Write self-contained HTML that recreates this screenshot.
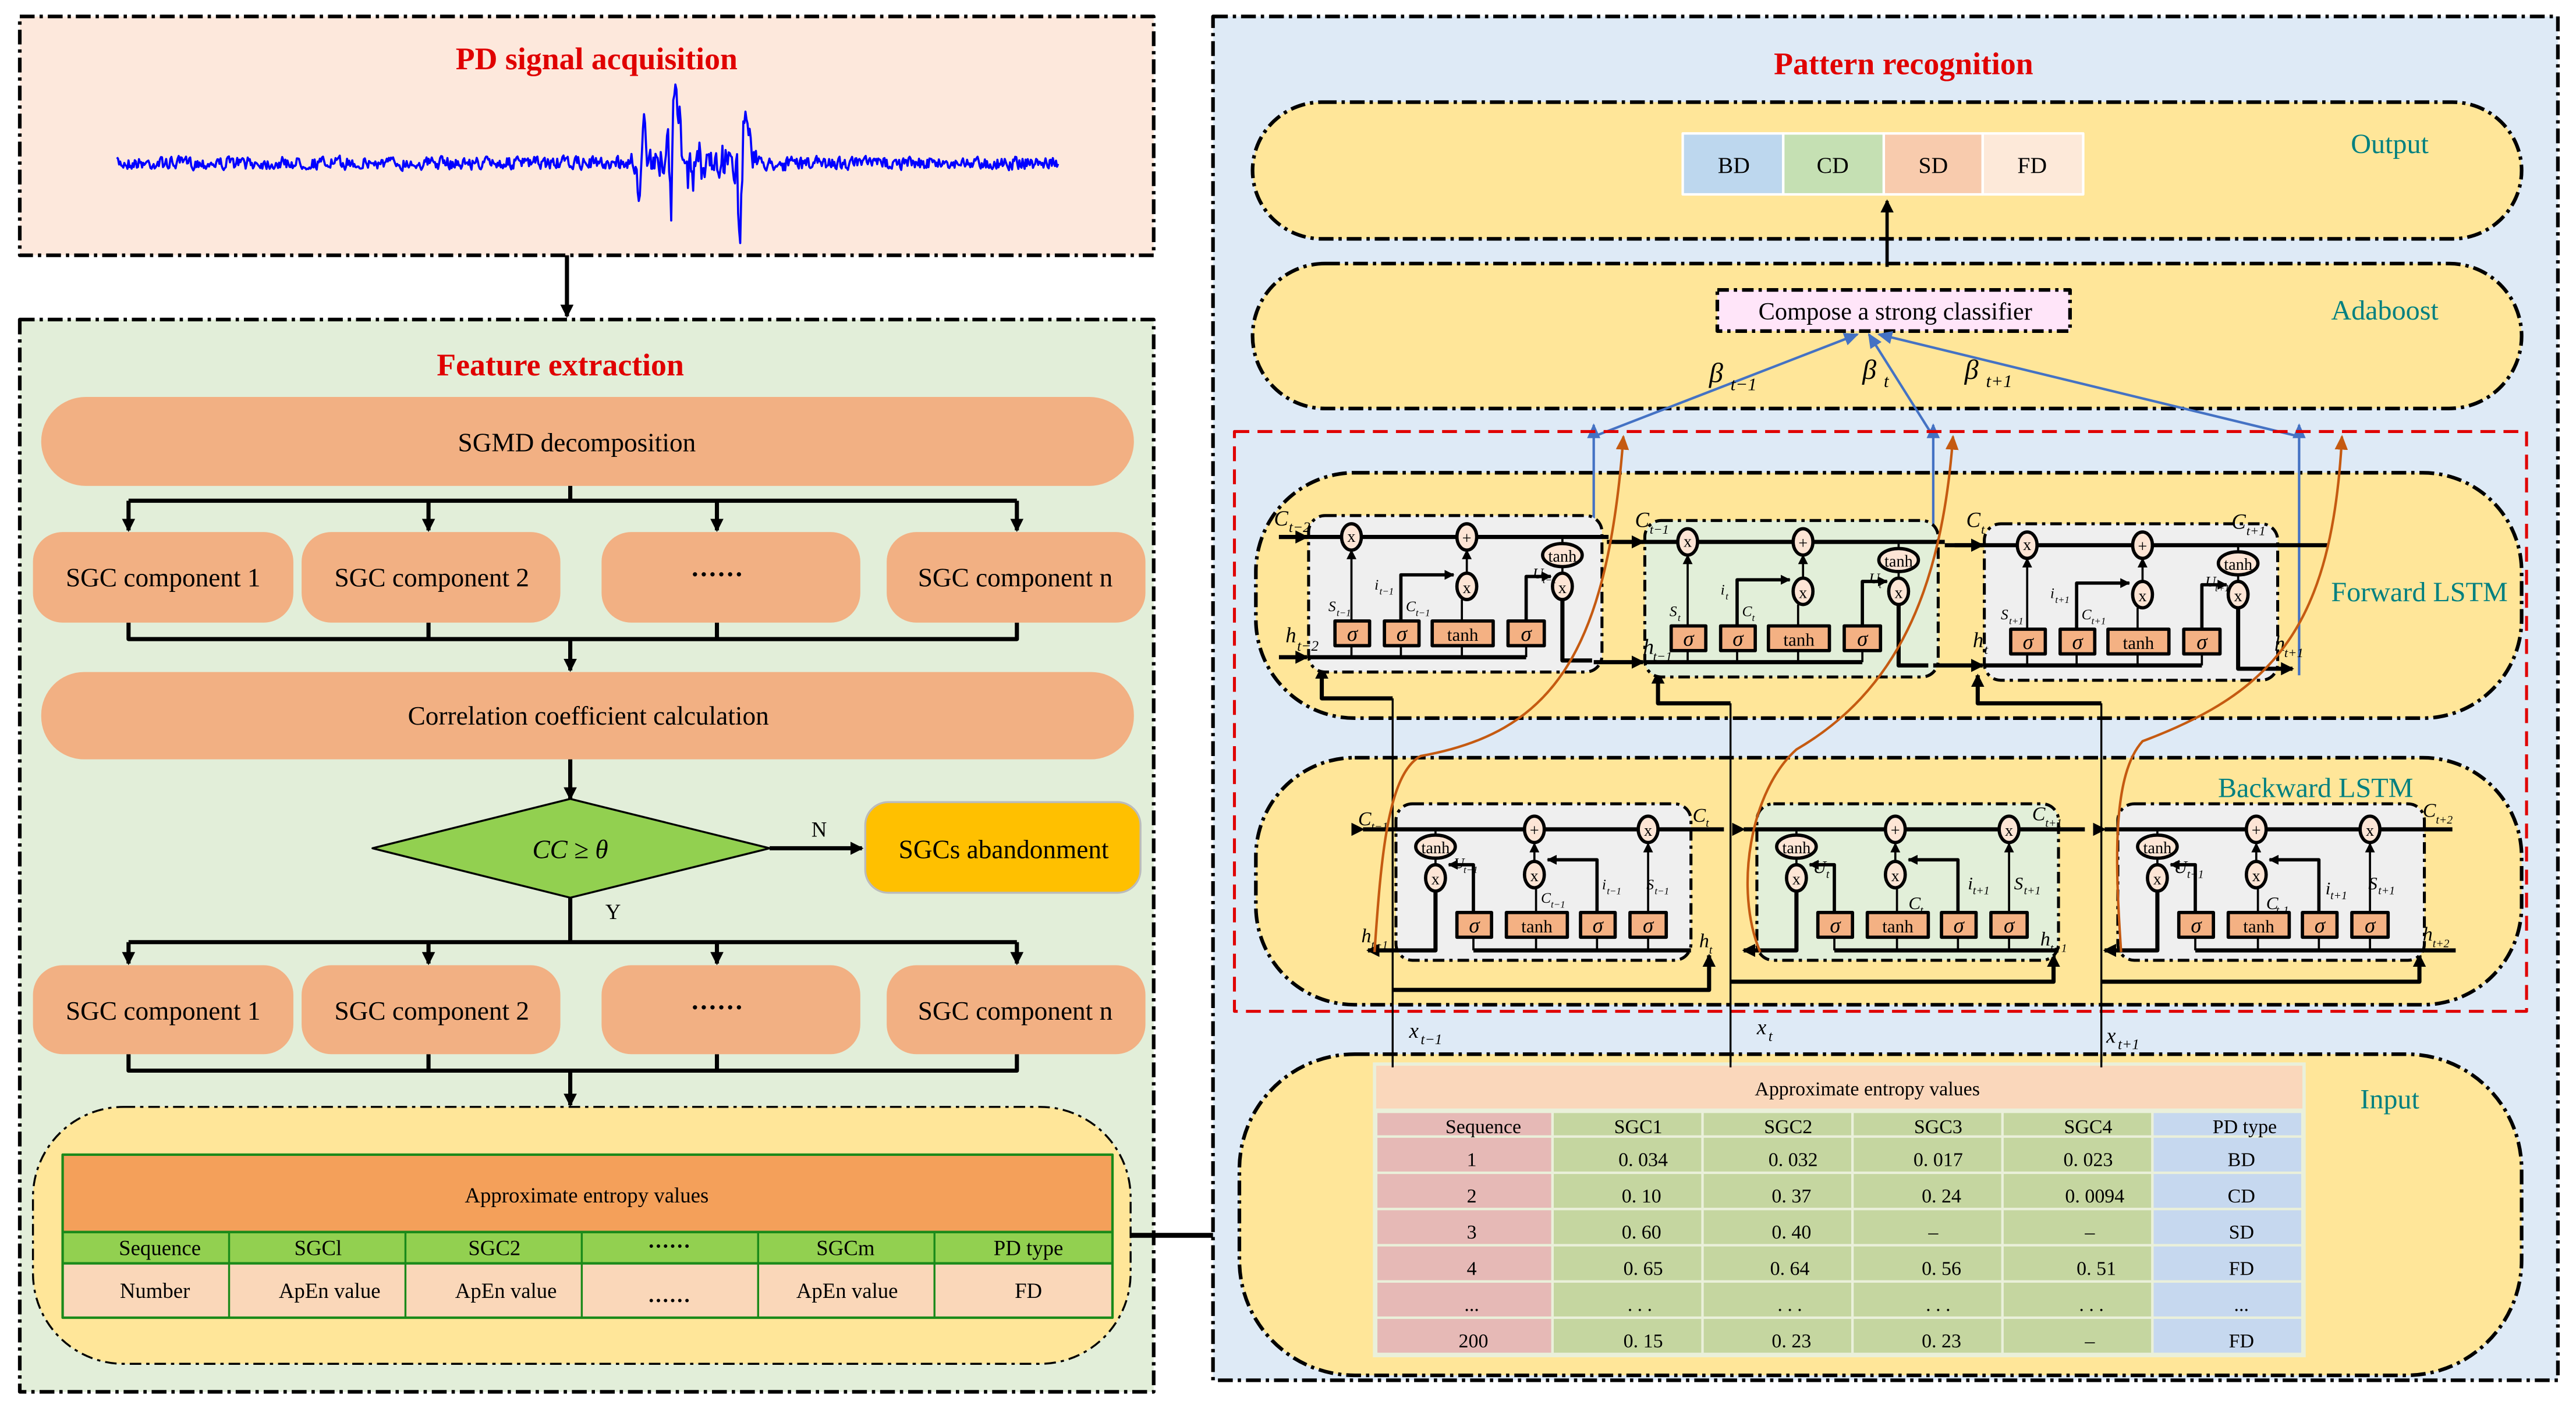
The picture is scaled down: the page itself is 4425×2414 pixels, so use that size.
<!DOCTYPE html>
<html><head><meta charset="utf-8"><style>
html,body{margin:0;padding:0;background:#fff;}
svg{display:block;}
text{font-family:"Liberation Serif",serif;}
.it{font-style:italic;}
</style></head><body>
<svg id="s" width="4425" height="2414" viewBox="0 0 1563 853" preserveAspectRatio="none" xmlns="http://www.w3.org/2000/svg">
<defs>
<marker id="ab" markerWidth="8" markerHeight="8" refX="7" refY="4" orient="auto" markerUnits="userSpaceOnUse"><path d="M0,0 L8,4 L0,8 Z" fill="#000"/></marker>
<marker id="as" markerWidth="6" markerHeight="6" refX="5.5" refY="3" orient="auto" markerUnits="userSpaceOnUse"><path d="M0,0 L6,3 L0,6 Z" fill="#000"/></marker>
<marker id="abl" markerWidth="9" markerHeight="8" refX="8" refY="4" orient="auto" markerUnits="userSpaceOnUse"><path d="M0,0 L9,4 L0,8 Z" fill="#4472c4"/></marker>
<marker id="aor" markerWidth="9" markerHeight="8" refX="8" refY="4" orient="auto" markerUnits="userSpaceOnUse"><path d="M0,0 L9,4 L0,8 Z" fill="#c55a11"/></marker>
</defs>
<g stroke-linejoin="round">
<!-- LEFT TOP -->
<rect x="12" y="10" width="688" height="145" fill="#fde8dc" stroke="#000" stroke-width="2.2" stroke-dasharray="9 3 2 3"/>
<text x="362" y="42" font-size="19" font-weight="bold" fill="#e00000" text-anchor="middle">PD signal acquisition</text>
<path id="wave" d="" fill="none" stroke="#0000ff" stroke-width="1.3"/>
<line x1="344" y1="155" x2="344" y2="192" stroke="#000" stroke-width="2.5" marker-end="url(#ab)"/>

<!-- LEFT FEATURE -->
<rect x="12" y="194" width="688" height="651" fill="#e2eed9" stroke="#000" stroke-width="2.2" stroke-dasharray="9 3 2 3"/>
<text x="340" y="228" font-size="19" font-weight="bold" fill="#e00000" text-anchor="middle">Feature extraction</text>
<rect x="25" y="241" width="663" height="54" rx="27" fill="#f2b083"/>
<text x="350" y="274" font-size="16" text-anchor="middle">SGMD decomposition</text>
<g stroke="#000" stroke-width="2.5" fill="none">
<line x1="346" y1="295" x2="346" y2="304"/>
<line x1="78" y1="304" x2="617" y2="304"/>
<line x1="78" y1="304" x2="78" y2="322" marker-end="url(#ab)"/>
<line x1="260" y1="304" x2="260" y2="322" marker-end="url(#ab)"/>
<line x1="435" y1="304" x2="435" y2="322" marker-end="url(#ab)"/>
<line x1="617" y1="304" x2="617" y2="322" marker-end="url(#ab)"/>
<path d="M78,378V388H617V378M260,378V388M435,378V388"/>
<line x1="346" y1="388" x2="346" y2="407" marker-end="url(#ab)"/>
<line x1="346" y1="461" x2="346" y2="485" marker-end="url(#ab)"/>
<line x1="467" y1="515" x2="523" y2="515" marker-end="url(#ab)"/>
<path d="M346,545V572M78,572H617"/>
<line x1="78" y1="572" x2="78" y2="585" marker-end="url(#ab)"/>
<line x1="260" y1="572" x2="260" y2="585" marker-end="url(#ab)"/>
<line x1="435" y1="572" x2="435" y2="585" marker-end="url(#ab)"/>
<line x1="617" y1="572" x2="617" y2="585" marker-end="url(#ab)"/>
<path d="M78,640V650H617V640M260,640V650M435,640V650"/>
<line x1="346" y1="650" x2="346" y2="671" marker-end="url(#ab)"/>
<line x1="686" y1="750" x2="752" y2="750" stroke-width="3"/>
</g>
<g fill="#f2b083">
<rect x="20" y="323" width="158" height="55" rx="18"/><rect x="183" y="323" width="157" height="55" rx="18"/><rect x="365" y="323" width="157" height="55" rx="18"/><rect x="538" y="323" width="157" height="55" rx="18"/>
<rect x="25" y="408" width="663" height="53" rx="26"/>
<rect x="20" y="586" width="158" height="54" rx="18"/><rect x="183" y="586" width="157" height="54" rx="18"/><rect x="365" y="586" width="157" height="54" rx="18"/><rect x="538" y="586" width="157" height="54" rx="18"/>
</g>
<g font-size="16" text-anchor="middle">
<text x="99" y="356">SGC component 1</text><text x="262" y="356">SGC component 2</text><text x="435" y="354" font-weight="bold">······</text><text x="616" y="356">SGC component n</text>
<text x="357" y="440">Correlation coefficient calculation</text>
<text x="99" y="619">SGC component 1</text><text x="262" y="619">SGC component 2</text><text x="435" y="617" font-weight="bold">······</text><text x="616" y="619">SGC component n</text>
</g>
<polygon points="226,515 346,485 467,515 346,545" fill="#92d050" stroke="#000" stroke-width="1.2"/>
<text x="346" y="521" font-size="16" text-anchor="middle" class="it">CC ≥ θ</text>
<text x="497" y="508" font-size="13" text-anchor="middle">N</text>
<text x="372" y="558" font-size="13" text-anchor="middle">Y</text>
<rect x="525" y="487" width="167" height="55" rx="14" fill="#ffc000" stroke="#bbb" stroke-width="1.2"/>
<text x="609" y="521" font-size="16" text-anchor="middle">SGCs abandonment</text>
<rect x="20" y="672" width="666" height="156" rx="55" fill="#ffe699" stroke="#000" stroke-width="1.2" stroke-dasharray="7 3 2 3"/>
<rect x="38" y="701" width="637" height="47" fill="#f4a05a" stroke="#1a8a1a" stroke-width="1.5"/>
<rect x="38" y="748" width="637" height="19" fill="#92d050" stroke="#1a8a1a" stroke-width="1.5"/>
<rect x="38" y="767" width="637" height="33" fill="#fad7b9" stroke="#1a8a1a" stroke-width="1.5"/>
<g stroke="#1a8a1a" stroke-width="1.2"><path d="M139,748V800M246,748V800M353,748V800M460,748V800M567,748V800"/></g>
<g font-size="13" text-anchor="middle">
<text x="356" y="730">Approximate entropy values</text>
<text x="97" y="762">Sequence</text><text x="193" y="762">SGCl</text><text x="300" y="762">SGC2</text><text x="406" y="761" font-weight="bold">······</text><text x="513" y="762">SGCm</text><text x="624" y="762">PD type</text>
<text x="94" y="788">Number</text><text x="200" y="788">ApEn value</text><text x="307" y="788">ApEn value</text><text x="406" y="794" font-weight="bold">······</text><text x="514" y="788">ApEn value</text><text x="624" y="788">FD</text>
</g>

<!-- RIGHT PANEL -->
<rect x="736" y="10" width="816" height="828" fill="#deeaf6" stroke="#000" stroke-width="2.2" stroke-dasharray="9 3 2 3"/>
<text x="1155" y="45" font-size="19" font-weight="bold" fill="#e00000" text-anchor="middle">Pattern recognition</text>
<g fill="#ffe699" stroke="#000" stroke-width="2.2" stroke-dasharray="9 3 2 3">
<rect x="760" y="62" width="770" height="83" rx="42"/>
<rect x="760" y="160" width="770" height="88" rx="44"/>
<rect x="762" y="287" width="768" height="149" rx="60"/>
<rect x="762" y="460" width="768" height="150" rx="60"/>
<rect x="752" y="640" width="778" height="195" rx="70"/>
</g>
<g font-size="17" fill="#008080" text-anchor="middle">
<text x="1450" y="93">Output</text><text x="1447" y="194">Adaboost</text><text x="1468" y="365">Forward LSTM</text><text x="1405" y="484">Backward LSTM</text><text x="1450" y="673">Input</text>
</g>
<g stroke="#fff" stroke-width="1.5">
<rect x="1021" y="81" width="61" height="37" fill="#bdd7ee"/><rect x="1082" y="81" width="61" height="37" fill="#c5e0b3"/><rect x="1143" y="81" width="60" height="37" fill="#f8cbad"/><rect x="1203" y="81" width="61" height="37" fill="#fde9d9"/>
</g>
<g font-size="14" text-anchor="middle" style="font-family:'DejaVu Sans','Liberation Sans',sans-serif">
<text x="1052" y="105">BD</text><text x="1112" y="105">CD</text><text x="1173" y="105">SD</text><text x="1233" y="105">FD</text>
</g>
<line x1="1145" y1="162" x2="1145" y2="122" stroke="#000" stroke-width="2" marker-end="url(#ab)"/>
<rect x="1042" y="176" width="214" height="25" fill="#ffe5f9" stroke="#000" stroke-width="2.2" stroke-dasharray="7 3 2 3"/>
<text x="1150" y="194" font-size="15" text-anchor="middle">Compose a strong classifier</text>

<!-- blue arrows -->
<g stroke="#4472c4" stroke-width="1.5" fill="none">
<line x1="967" y1="265" x2="1127" y2="203" marker-end="url(#abl)"/>
<line x1="1173" y1="265" x2="1134" y2="203" marker-end="url(#abl)"/>
<line x1="1395" y1="265" x2="1140" y2="203" marker-end="url(#abl)"/>
<line x1="967" y1="402" x2="967" y2="258" marker-end="url(#abl)"/>
<line x1="1173" y1="405" x2="1173" y2="258" marker-end="url(#abl)"/>
<line x1="1395" y1="410" x2="1395" y2="258" marker-end="url(#abl)"/>
</g>
<g font-size="17" class="it">
<text x="1037" y="232">β</text><text x="1050" y="237" font-size="11">t−1</text>
<text x="1130" y="230">β</text><text x="1143" y="235" font-size="11">t</text>
<text x="1192" y="230">β</text><text x="1205" y="235" font-size="11">t+1</text>
</g>
<rect x="749" y="262" width="784" height="352" fill="none" stroke="#e00000" stroke-width="1.8" stroke-dasharray="9 5"/>

<!-- x input lines -->
<g stroke="#000" stroke-width="1.2" fill="none">
<path d="M845,648V424"/><path d="M1050,648V427"/><path d="M1275,648V427"/>
</g>
<g stroke="#000" stroke-width="2.5" fill="none">
<path d="M845,424H802V405" marker-end="url(#ab)"/>
<path d="M1050,427H1006V408" marker-end="url(#ab)"/>
<path d="M1275,427H1200V410" marker-end="url(#ab)"/>
<path d="M845,601H1037V580" marker-end="url(#ab)"/>
<path d="M1050,596H1246V580" marker-end="url(#ab)"/>
<path d="M1275,596H1468V580" marker-end="url(#ab)"/>
</g>
<g font-size="13" class="it">
<text x="855" y="630">x</text><text x="862" y="634" font-size="9">t−1</text>
<text x="1066" y="628">x</text><text x="1073" y="632" font-size="9">t</text>
<text x="1278" y="633">x</text><text x="1285" y="637" font-size="9">t+1</text>
</g>

<!-- FORWARD CELLS -->
<g id="fc1" transform="translate(794,313)">
<rect x="0" y="0" width="178" height="95" rx="10" fill="#efefef" stroke="#000" stroke-width="1.8" stroke-dasharray="7 3 2 3"/>
<g stroke="#000" stroke-width="1.3" fill="none">
<path d="M26,64V21" marker-end="url(#as)"/><path d="M56,64V36H88" marker-end="url(#as)" stroke-width="2"/>
<path d="M93,64V51"/><path d="M96,35V21" marker-end="url(#as)"/><path d="M154,13V17M154,31V35"/>
<path d="M132,64V37H147" marker-end="url(#as)" stroke-width="2"/>
<path d="M26,79V86M56,79V86M93,79V86M132,79V86"/><path d="M0,86H132" stroke-width="2.5"/>
<path d="M154,51V88H172" stroke-width="2.5"/>
</g>
<line x1="-18" y1="13" x2="182" y2="13" stroke="#000" stroke-width="2.5"/>
<g fill="#fde5d5" stroke="#000" stroke-width="2"><ellipse cx="26" cy="13" rx="6" ry="8"/><ellipse cx="96" cy="13" rx="6" ry="8"/><ellipse cx="96" cy="43" rx="6" ry="8"/><ellipse cx="154" cy="43" rx="6" ry="8"/><ellipse cx="154" cy="24" rx="12" ry="7"/></g>
<g fill="#f4b183" stroke="#000" stroke-width="2"><rect x="16" y="64" width="21" height="15"/><rect x="46" y="64" width="21" height="15"/><rect x="75" y="64" width="37" height="15"/><rect x="121" y="64" width="22" height="15"/></g>
<g font-size="10" text-anchor="middle"><text x="26" y="16">x</text><text x="96" y="17">+</text><text x="96" y="47">x</text><text x="154" y="47">x</text><text x="154" y="28">tanh</text>
<text x="26.5" y="76" class="it" font-size="13">σ</text><text x="56.5" y="76" class="it" font-size="13">σ</text><text x="93.5" y="76" font-size="11">tanh</text><text x="132" y="76" class="it" font-size="13">σ</text></g>
<g font-size="9" class="it"><text x="12" y="58">S</text><text x="17" y="61" font-size="6">t−1</text><text x="40" y="45">i</text><text x="43" y="48" font-size="6">t−1</text><text x="59" y="58">C</text><text x="65" y="61" font-size="6">t−1</text><text x="136" y="38">U</text><text x="142" y="41" font-size="6">t−1</text></g>
</g>
<g transform="translate(998,316)">
<rect x="0" y="0" width="178" height="95" rx="10" fill="#e2efd9" stroke="#000" stroke-width="1.8" stroke-dasharray="7 3 2 3"/>
<g stroke="#000" stroke-width="1.3" fill="none">
<path d="M26,64V21" marker-end="url(#as)"/><path d="M56,64V36H88" marker-end="url(#as)" stroke-width="2"/>
<path d="M93,64V51"/><path d="M96,35V21" marker-end="url(#as)"/><path d="M154,13V17M154,31V35"/>
<path d="M132,64V37H147" marker-end="url(#as)" stroke-width="2"/>
<path d="M26,79V86M56,79V86M93,79V86M132,79V86"/><path d="M0,86H132" stroke-width="2.5"/>
<path d="M154,51V88H172" stroke-width="2.5"/>
</g>
<line x1="-18" y1="13" x2="182" y2="13" stroke="#000" stroke-width="2.5"/>
<g fill="#fde5d5" stroke="#000" stroke-width="2"><ellipse cx="26" cy="13" rx="6" ry="8"/><ellipse cx="96" cy="13" rx="6" ry="8"/><ellipse cx="96" cy="43" rx="6" ry="8"/><ellipse cx="154" cy="43" rx="6" ry="8"/><ellipse cx="154" cy="24" rx="12" ry="7"/></g>
<g fill="#f4b183" stroke="#000" stroke-width="2"><rect x="16" y="64" width="21" height="15"/><rect x="46" y="64" width="21" height="15"/><rect x="75" y="64" width="37" height="15"/><rect x="121" y="64" width="22" height="15"/></g>
<g font-size="10" text-anchor="middle"><text x="26" y="16">x</text><text x="96" y="17">+</text><text x="96" y="47">x</text><text x="154" y="47">x</text><text x="154" y="28">tanh</text>
<text x="26.5" y="76" class="it" font-size="13">σ</text><text x="56.5" y="76" class="it" font-size="13">σ</text><text x="93.5" y="76" font-size="11">tanh</text><text x="132" y="76" class="it" font-size="13">σ</text></g>
<g font-size="9" class="it"><text x="15" y="58">S</text><text x="20" y="61" font-size="6">t</text><text x="46" y="45">i</text><text x="49" y="48" font-size="6">t</text><text x="59" y="58">C</text><text x="65" y="61" font-size="6">t</text><text x="136" y="38">U</text><text x="142" y="41" font-size="6">t</text></g>
</g>
<g transform="translate(1204,318)">
<rect x="0" y="0" width="178" height="95" rx="10" fill="#efefef" stroke="#000" stroke-width="1.8" stroke-dasharray="7 3 2 3"/>
<g stroke="#000" stroke-width="1.3" fill="none">
<path d="M26,64V21" marker-end="url(#as)"/><path d="M56,64V36H88" marker-end="url(#as)" stroke-width="2"/>
<path d="M93,64V51"/><path d="M96,35V21" marker-end="url(#as)"/><path d="M154,13V17M154,31V35"/>
<path d="M132,64V37H147" marker-end="url(#as)" stroke-width="2"/>
<path d="M26,79V86M56,79V86M93,79V86M132,79V86"/><path d="M0,86H132" stroke-width="2.5"/>
<path d="M154,51V88H187" stroke-width="2.5" marker-end="url(#ab)"/>
</g>
<line x1="-18" y1="13" x2="208" y2="13" stroke="#000" stroke-width="2.5"/>
<g fill="#fde5d5" stroke="#000" stroke-width="2"><ellipse cx="26" cy="13" rx="6" ry="8"/><ellipse cx="96" cy="13" rx="6" ry="8"/><ellipse cx="96" cy="43" rx="6" ry="8"/><ellipse cx="154" cy="43" rx="6" ry="8"/><ellipse cx="154" cy="24" rx="12" ry="7"/></g>
<g fill="#f4b183" stroke="#000" stroke-width="2"><rect x="16" y="64" width="21" height="15"/><rect x="46" y="64" width="21" height="15"/><rect x="75" y="64" width="37" height="15"/><rect x="121" y="64" width="22" height="15"/></g>
<g font-size="10" text-anchor="middle"><text x="26" y="16">x</text><text x="96" y="17">+</text><text x="96" y="47">x</text><text x="154" y="47">x</text><text x="154" y="28">tanh</text>
<text x="26.5" y="76" class="it" font-size="13">σ</text><text x="56.5" y="76" class="it" font-size="13">σ</text><text x="93.5" y="76" font-size="11">tanh</text><text x="132" y="76" class="it" font-size="13">σ</text></g>
<g font-size="9" class="it"><text x="10" y="58">S</text><text x="15" y="61" font-size="6">t+1</text><text x="40" y="45">i</text><text x="43" y="48" font-size="6">t+1</text><text x="59" y="58">C</text><text x="65" y="61" font-size="6">t+1</text><text x="134" y="38">U</text><text x="140" y="41" font-size="6">t+1</text></g>
</g>
<!-- forward entry arrows & labels -->
<g stroke="#000" stroke-width="2.5"><line x1="776" y1="326" x2="793" y2="326" marker-end="url(#ab)"/><line x1="776" y1="399" x2="793" y2="399" marker-end="url(#ab)"/>
<line x1="975" y1="329" x2="997" y2="329" marker-end="url(#ab)"/><line x1="967" y1="402" x2="997" y2="402" marker-end="url(#ab)"/>
<line x1="1180" y1="331" x2="1203" y2="331" marker-end="url(#ab)"/><line x1="1173" y1="404" x2="1203" y2="404" marker-end="url(#ab)"/></g>
<g font-size="13" class="it">
<text x="773" y="319">C</text><text x="782" y="323" font-size="9">t−2</text>
<text x="780" y="390">h</text><text x="787" y="395" font-size="9">t−2</text>
<text x="992" y="320">C</text><text x="1001" y="324" font-size="8">t−1</text>
<text x="997" y="397">h</text><text x="1003" y="401" font-size="8">t−1</text>
<text x="1193" y="320">C</text><text x="1202" y="324" font-size="8">t</text>
<text x="1197" y="393">h</text><text x="1204" y="397" font-size="8">t</text>
<text x="1354" y="321">C</text><text x="1363" y="325" font-size="8">t+1</text>
<text x="1380" y="395">h</text><text x="1386" y="399" font-size="8">t+1</text>
</g>

<!-- BACKWARD CELLS -->
<g transform="translate(847,488)">
<rect x="0" y="0" width="179" height="95" rx="10" fill="#efefef" stroke="#000" stroke-width="1.8" stroke-dasharray="7 3 2 3"/>
<g stroke="#000" stroke-width="1.3" fill="none">
<path d="M153,66V24" marker-end="url(#as)"/><path d="M122,66V34H92" marker-end="url(#as)" stroke-width="2"/>
<path d="M85,66V51"/><path d="M84,35V24" marker-end="url(#as)"/><path d="M24,15.5V19M24,33V37"/>
<path d="M47,66V37H32" marker-end="url(#as)" stroke-width="2"/>
<path d="M47,81V89M85,81V89M122,81V89M153,81V89"/><path d="M47,89H179" stroke-width="2.5"/>
<path d="M24,53V89H-17" stroke-width="2.5" marker-end="url(#ab)"/>
</g>
<line x1="-20" y1="15.5" x2="199" y2="15.5" stroke="#000" stroke-width="2.5" marker-start="url(#ab)"/>
<g fill="#fde5d5" stroke="#000" stroke-width="2"><ellipse cx="24" cy="45" rx="6" ry="8"/><ellipse cx="84" cy="15.5" rx="6" ry="8"/><ellipse cx="84" cy="43" rx="6" ry="8"/><ellipse cx="153" cy="15.5" rx="6" ry="8"/><ellipse cx="24" cy="26" rx="12" ry="7"/></g>
<g fill="#f4b183" stroke="#000" stroke-width="2"><rect x="37" y="66" width="21" height="15"/><rect x="67" y="66" width="37" height="15"/><rect x="112" y="66" width="21" height="15"/><rect x="142" y="66" width="22" height="15"/></g>
<g font-size="10" text-anchor="middle"><text x="24" y="49">x</text><text x="84" y="19.5">+</text><text x="84" y="47">x</text><text x="153" y="19.5">x</text><text x="24" y="30">tanh</text>
<text x="47.5" y="78" class="it" font-size="13">σ</text><text x="85.5" y="78" font-size="11">tanh</text><text x="122.5" y="78" class="it" font-size="13">σ</text><text x="153" y="78" class="it" font-size="13">σ</text></g>
<g font-size="9" class="it"><text x="35" y="39">U</text><text x="41" y="42" font-size="6">t−1</text><text x="88" y="60">C</text><text x="94" y="63" font-size="6">t−1</text><text x="125" y="52">i</text><text x="128" y="55" font-size="6">t−1</text><text x="152" y="52">S</text><text x="157" y="55" font-size="6">t−1</text></g>
</g>
<g transform="translate(1066,488)">
<rect x="0" y="0" width="183" height="95" rx="10" fill="#e2efd9" stroke="#000" stroke-width="1.8" stroke-dasharray="7 3 2 3"/>
<g stroke="#000" stroke-width="1.3" fill="none">
<path d="M153,66V24" marker-end="url(#as)"/><path d="M122,66V34H92" marker-end="url(#as)" stroke-width="2"/>
<path d="M85,66V51"/><path d="M84,35V24" marker-end="url(#as)"/><path d="M24,15.5V19M24,33V37"/>
<path d="M47,66V37H32" marker-end="url(#as)" stroke-width="2"/>
<path d="M47,81V89M85,81V89M122,81V89M153,81V89"/><path d="M47,89H183" stroke-width="2.5"/>
<path d="M24,53V89H-8" stroke-width="2.5" marker-end="url(#ab)"/>
</g>
<line x1="-8" y1="15.5" x2="199" y2="15.5" stroke="#000" stroke-width="2.5" marker-start="url(#ab)"/>
<g fill="#fde5d5" stroke="#000" stroke-width="2"><ellipse cx="24" cy="45" rx="6" ry="8"/><ellipse cx="84" cy="15.5" rx="6" ry="8"/><ellipse cx="84" cy="43" rx="6" ry="8"/><ellipse cx="153" cy="15.5" rx="6" ry="8"/><ellipse cx="24" cy="26" rx="12" ry="7"/></g>
<g fill="#f4b183" stroke="#000" stroke-width="2"><rect x="37" y="66" width="21" height="15"/><rect x="67" y="66" width="37" height="15"/><rect x="112" y="66" width="21" height="15"/><rect x="142" y="66" width="22" height="15"/></g>
<g font-size="10" text-anchor="middle"><text x="24" y="49">x</text><text x="84" y="19.5">+</text><text x="84" y="47">x</text><text x="153" y="19.5">x</text><text x="24" y="30">tanh</text>
<text x="47.5" y="78" class="it" font-size="13">σ</text><text x="85.5" y="78" font-size="11">tanh</text><text x="122.5" y="78" class="it" font-size="13">σ</text><text x="153" y="78" class="it" font-size="13">σ</text></g>
<g font-size="11" class="it"><text x="34" y="42">U</text><text x="42" y="45" font-size="7">t</text><text x="92" y="64">C</text><text x="99" y="67" font-size="7">t</text><text x="128" y="52">i</text><text x="131" y="55" font-size="7">t+1</text><text x="156" y="52">S</text><text x="162" y="55" font-size="7">t+1</text></g>
</g>
<g transform="translate(1285,488)">
<rect x="0" y="0" width="186" height="95" rx="10" fill="#efefef" stroke="#000" stroke-width="1.8" stroke-dasharray="7 3 2 3"/>
<g stroke="#000" stroke-width="1.3" fill="none">
<path d="M153,66V24" marker-end="url(#as)"/><path d="M122,66V34H92" marker-end="url(#as)" stroke-width="2"/>
<path d="M85,66V51"/><path d="M84,35V24" marker-end="url(#as)"/><path d="M24,15.5V19M24,33V37"/>
<path d="M47,66V37H32" marker-end="url(#as)" stroke-width="2"/>
<path d="M47,81V89M85,81V89M122,81V89M153,81V89"/><path d="M47,89H205" stroke-width="2.5"/>
<path d="M24,53V89H-8" stroke-width="2.5" marker-end="url(#ab)"/>
</g>
<line x1="-8" y1="15.5" x2="203" y2="15.5" stroke="#000" stroke-width="2.5" marker-start="url(#ab)"/>
<g fill="#fde5d5" stroke="#000" stroke-width="2"><ellipse cx="24" cy="45" rx="6" ry="8"/><ellipse cx="84" cy="15.5" rx="6" ry="8"/><ellipse cx="84" cy="43" rx="6" ry="8"/><ellipse cx="153" cy="15.5" rx="6" ry="8"/><ellipse cx="24" cy="26" rx="12" ry="7"/></g>
<g fill="#f4b183" stroke="#000" stroke-width="2"><rect x="37" y="66" width="21" height="15"/><rect x="67" y="66" width="37" height="15"/><rect x="112" y="66" width="21" height="15"/><rect x="142" y="66" width="22" height="15"/></g>
<g font-size="10" text-anchor="middle"><text x="24" y="49">x</text><text x="84" y="19.5">+</text><text x="84" y="47">x</text><text x="153" y="19.5">x</text><text x="24" y="30">tanh</text>
<text x="47.5" y="78" class="it" font-size="13">σ</text><text x="85.5" y="78" font-size="11">tanh</text><text x="122.5" y="78" class="it" font-size="13">σ</text><text x="153" y="78" class="it" font-size="13">σ</text></g>
<g font-size="11" class="it"><text x="34" y="42">U</text><text x="42" y="45" font-size="7">t+1</text><text x="90" y="64">C</text><text x="96" y="67" font-size="7">t-1</text><text x="126" y="55">i</text><text x="129" y="58" font-size="7">t+1</text><text x="152" y="52">S</text><text x="158" y="55" font-size="7">t+1</text></g>
</g>
<g font-size="12" class="it">
<text x="824" y="501">C</text><text x="832" y="504" font-size="7">t−1</text>
<text x="826" y="572">h</text><text x="832" y="576" font-size="7">t−1</text>
<text x="1027" y="499">C</text><text x="1035" y="502" font-size="7">t</text>
<text x="1031" y="575">h</text><text x="1037" y="579" font-size="7">t</text>
<text x="1233" y="498">C</text><text x="1241" y="502" font-size="7">t+1</text>
<text x="1238" y="574">h</text><text x="1244" y="578" font-size="7">t+1</text>
<text x="1470" y="496">C</text><text x="1478" y="500" font-size="7">t+2</text>
<text x="1470" y="571">h</text><text x="1476" y="575" font-size="7">t+2</text>
</g>

<!-- orange curves -->
<g stroke="#c55a11" stroke-width="1.5" fill="none">
<path d="M834,578 C838,520 842,470 862,459 C940,445 975,400 985,265" marker-end="url(#aor)"/>
<path d="M1068,578 C1052,540 1062,480 1090,455 C1150,420 1178,360 1185,265" marker-end="url(#aor)"/>
<path d="M1287,578 C1283,520 1282,470 1300,450 C1380,420 1415,380 1421,265" marker-end="url(#aor)"/>
</g>

<!-- INPUT TABLE -->
<rect x="833" y="645" width="566" height="179" fill="#eaf0da"/>
<rect x="835" y="647" width="562" height="26" fill="#fad7bb"/>
<g stroke="#eaf0da" stroke-width="1.5">
<rect x="835" y="675" width="107" height="147" fill="#e6b9b6"/>
<rect x="942" y="675" width="364" height="147" fill="#c5d6a0"/>
<rect x="1306" y="675" width="91" height="147" fill="#c6d8ef"/>
<path d="M1033,675V822M1124,675V822M1215,675V822M835,690H1397M835,712H1397M835,734H1397M835,756H1397M835,778H1397M835,800H1397" fill="none"/>
</g>
<g font-size="12" text-anchor="middle">
<text x="1133" y="665">Approximate entropy values</text>
<text x="900" y="688">Sequence</text><text x="994" y="688">SGC1</text><text x="1085" y="688">SGC2</text><text x="1176" y="688">SGC3</text><text x="1267" y="688">SGC4</text><text x="1362" y="688">PD type</text>
<text x="893" y="708">1</text><text x="997" y="708">0. 034</text><text x="1088" y="708">0. 032</text><text x="1176" y="708">0. 017</text><text x="1267" y="708">0. 023</text><text x="1360" y="708">BD</text>
<text x="893" y="730">2</text><text x="996" y="730">0. 10</text><text x="1087" y="730">0. 37</text><text x="1178" y="730">0. 24</text><text x="1271" y="730">0. 0094</text><text x="1360" y="730">CD</text>
<text x="893" y="752">3</text><text x="996" y="752">0. 60</text><text x="1087" y="752">0. 40</text><text x="1173" y="752">–</text><text x="1268" y="752">–</text><text x="1360" y="752">SD</text>
<text x="893" y="774">4</text><text x="997" y="774">0. 65</text><text x="1086" y="774">0. 64</text><text x="1178" y="774">0. 56</text><text x="1272" y="774">0. 51</text><text x="1360" y="774">FD</text>
<text x="893" y="796">...</text><text x="995" y="796">. . .</text><text x="1086" y="796">. . .</text><text x="1176" y="796">. . .</text><text x="1269" y="796">. . .</text><text x="1360" y="796">...</text>
<text x="894" y="818">200</text><text x="997" y="818">0. 15</text><text x="1087" y="818">0. 23</text><text x="1178" y="818">0. 23</text><text x="1268" y="818">–</text><text x="1360" y="818">FD</text>
</g>
<g stroke="#000" stroke-width="1.2"><path d="M845,640V648M1050,640V648M1275,640V648"/></g>
</g>
</svg>
<script>
(function(){
var seed=7;function r(){seed=(seed*16807)%2147483647;return seed/2147483647-0.5;}
var d="",x0=71,x1=642,n=900;
var spikes=[[390,-20],[388,15],[409,-38],[407,20],[412,-25],[405,-12],[451,-26],[449,28],[454,-15],[416,10]];
var prev=0;
for(var i=0;i<=n;i++){
 var x=x0+(x1-x0)*i/n;
 var v=prev*0.3+r()*7;
 var env=Math.exp(-Math.pow((x-425)/35,2));
 v+=env*r()*26;
 for(var k=0;k<spikes.length;k++){var s=spikes[k];if(Math.abs(x-s[0])<1.5)v+=s[1];}
 prev=v;
 d+=(i?"L":"M")+x.toFixed(2)+","+(99+v).toFixed(2);
}
document.getElementById("wave").setAttribute("d",d);
})();
</script>
</body></html>
